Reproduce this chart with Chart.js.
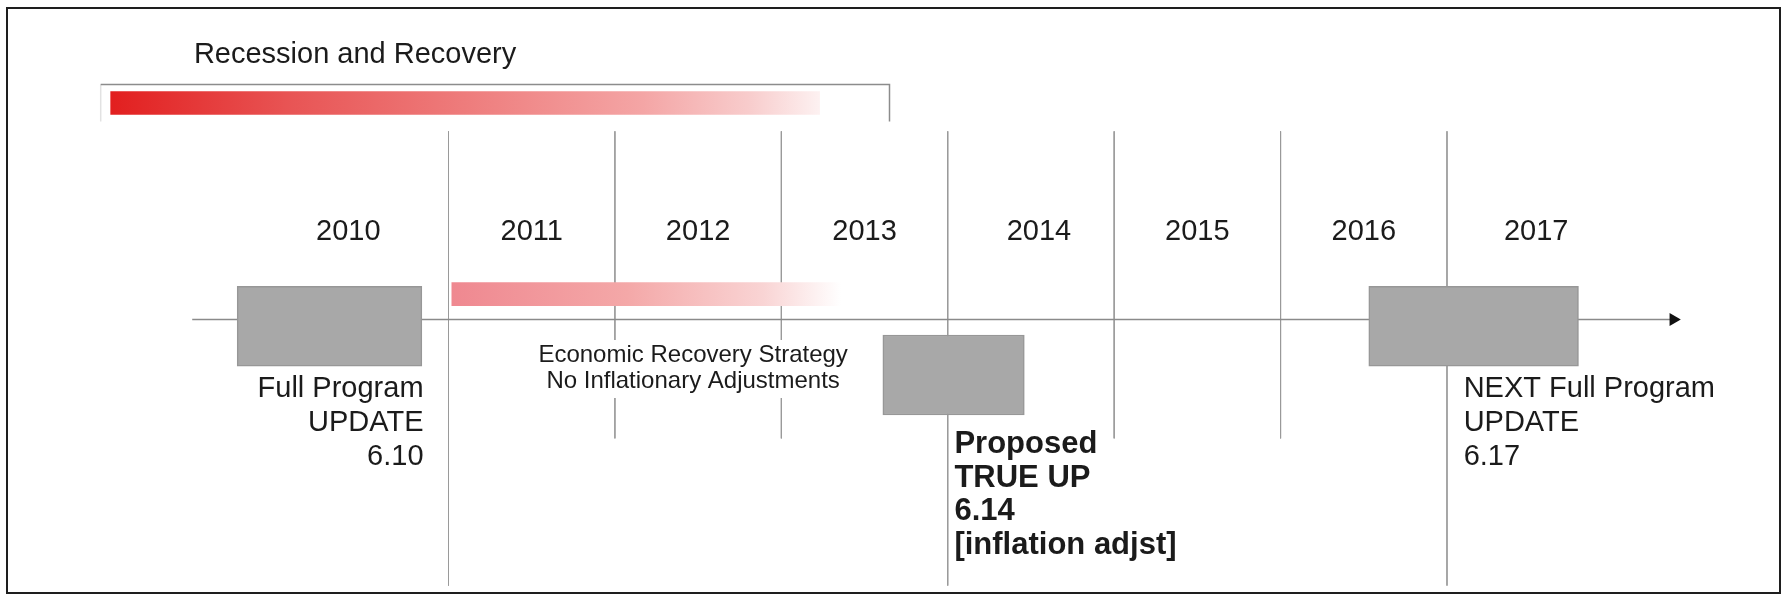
<!DOCTYPE html>
<html lang="en">
<head>
    <meta charset="UTF-8">
    <title>Recession and Recovery - Program Update Timeline</title>
    <script src="https://cdn.jsdelivr.net/npm/chart.js"></script>
    <style>
        html, body { margin: 0; padding: 0; background: #fff; }
        #wrap { width: 1784px; height: 597px; position: relative; }
    </style>
</head>
<body>
    <div id="wrap"><canvas id="timeline"></canvas></div>

    <script>
        // Years across the top, and the dividers between the columns
        const years = [2010, 2011, 2012, 2013, 2014, 2015, 2016, 2017];
        const dividers = [2010.5, 2011.5, 2012.5, 2013.5, 2014.5, 2015.5, 2016.5];
        const longDividers = [2010.5, 2013.5, 2016.5];

        // Program events (grey boxes), start / end in fractional years
        const eventStart = [2009.23, 2013.11, 2016.03];
        const eventEnd = [2010.34, 2013.96, 2017.29];
        const eventLabels = [
            ["Full Program", "UPDATE", "6.10"],
            ["Proposed", "TRUE UP", "6.14", "[inflation adjst]"],
            ["NEXT Full Program", "UPDATE", "6.17"]
        ];

        // Shaded periods
        const recessionSpan = [2008.47, 2012.73];
        const recessionBracket = [2008.41, 2013.15];
        const recoverySpan = [2010.52, 2012.86];
        const timelineSpan = [2008.96, 2017.86];

        const titleText = "Recession and Recovery";
        const strategyText = ["Economic Recovery Strategy", "No Inflationary Adjustments"];

        // Layout only: vertical axis runs 0 (top) .. 597 (bottom)
        const layout = {
            xMin: 2007.85, xMax: 2018.48,
            recessionY: 98, bracketTop: 79, bracketBottom: 117,
            recoveryY: 294, barThick: 23,
            axisY: 320,
            eventY: [327, 377, 327], eventThick: 80,
            dividerTop: 127, dividerShort: 442, dividerLong: 593,
            yearBaseline: 240, yearShift: { 2010: -17, 2014: 8, 2017: 6 },
            titleX: 2008.97, titleBaseline: 63,
            strategyX: 2011.97, strategyBaselines: [362, 388],
            labelBaselines: [
                [397, 431, 465],
                [453, 487, 520, 554],
                [397, 431, 465]
            ],
            labelX: [2010.35, 2013.54, 2016.6],
            labelAlign: ["right", "left", "left"],
            labelSize: [29, 31, 29]
        };

        const font = (size, bold) => (bold ? "bold " : "") + size + 'px "Liberation Sans", Arial, Helvetica, sans-serif';

        const gradient = (span, stops) => (ctx) => {
            const chart = ctx.chart;
            if (!chart.chartArea) return stops[0][1];
            const xs = chart.scales.x;
            const g = chart.ctx.createLinearGradient(xs.getPixelForValue(span[0]), 0, xs.getPixelForValue(span[1]), 0);
            stops.forEach(s => g.addColorStop(s[0], s[1]));
            return g;
        };

        const dividerSets = dividers.map(d => ({
            type: "line",
            data: [
                { x: d, y: layout.dividerTop },
                { x: d, y: longDividers.includes(d) ? layout.dividerLong : layout.dividerShort }
            ],
            borderColor: "#9a9a9a",
            borderWidth: 1,
            pointRadius: 0,
            order: 5
        }));

        // Frame, title, year labels, annotations
        const textPlugin = {
            id: "timelineText",
            afterDatasetsDraw(chart) {
                const c = chart.ctx;
                const xs = chart.scales.x;
                c.save();

                // outer frame
                c.strokeStyle = "#1e1e1e";
                c.lineWidth = 2;
                c.strokeRect(7, 8, 1773, 585);

                c.fillStyle = "#1b1b1b";
                c.textBaseline = "alphabetic";

                c.font = font(29);
                c.textAlign = "left";
                c.fillText(titleText, xs.getPixelForValue(layout.titleX), layout.titleBaseline);

                c.textAlign = "center";
                years.forEach(y => {
                    const shift = layout.yearShift[y] || 0;
                    c.fillText(String(y), xs.getPixelForValue(y) + shift, layout.yearBaseline);
                });

                // strategy note, masking the dividers behind it
                c.font = font(24);
                const sx = xs.getPixelForValue(layout.strategyX);
                const w = Math.max(...strategyText.map(t => c.measureText(t).width));
                c.fillStyle = "#fff";
                c.fillRect(sx - w / 2 - 6, layout.strategyBaselines[0] - 22, w + 12, 58);
                c.fillStyle = "#1b1b1b";
                strategyText.forEach((t, i) => c.fillText(t, sx, layout.strategyBaselines[i]));

                eventLabels.forEach((lines, i) => {
                    c.font = font(layout.labelSize[i], i === 1);
                    c.textAlign = layout.labelAlign[i];
                    const lx = xs.getPixelForValue(layout.labelX[i]);
                    lines.forEach((t, j) => c.fillText(t, lx, layout.labelBaselines[i][j]));
                });

                c.restore();
            }
        };

        new Chart(document.getElementById("timeline"), {
            type: "bar",
            data: {
                datasets: [
                    {
                        type: "bar",
                        indexAxis: "y",
                        grouped: false,
                        data: eventStart.map((s, i) => ({ x: [s, eventEnd[i]], y: layout.eventY[i] })),
                        backgroundColor: "#a8a8a8",
                        borderColor: "#979797",
                        borderWidth: 1.5,
                        borderSkipped: false,
                        barThickness: layout.eventThick,
                        order: 1
                    },
                    {
                        type: "bar",
                        indexAxis: "y",
                        grouped: false,
                        data: [{ x: recessionSpan, y: layout.recessionY }],
                        backgroundColor: gradient(recessionSpan, [
                            [0, "#e21f1f"], [0.25, "#e85454"], [0.5, "#ee7c7c"],
                            [0.75, "#f4a5a5"], [0.9, "#f8cccc"], [1, "#fdf1f1"]
                        ]),
                        borderWidth: 0,
                        barThickness: layout.barThick,
                        order: 2
                    },
                    {
                        type: "bar",
                        indexAxis: "y",
                        grouped: false,
                        data: [{ x: recoverySpan, y: layout.recoveryY }],
                        backgroundColor: gradient(recoverySpan, [
                            [0, "#ef8890"], [0.45, "#f4a8a8"], [0.8, "#f9d4d4"], [1, "#ffffff"]
                        ]),
                        borderWidth: 0,
                        barThickness: layout.barThick,
                        order: 2
                    },
                    {
                        type: "line",
                        data: [
                            { x: recessionBracket[0], y: layout.bracketBottom },
                            { x: recessionBracket[0], y: layout.bracketTop },
                            { x: recessionBracket[1], y: layout.bracketTop },
                            { x: recessionBracket[1], y: layout.bracketBottom }
                        ],
                        borderColor: "#8c8c8c",
                        segment: {
                            borderColor: ctx => ctx.p0DataIndex === 0 ? "#e2e2e2" : "#8c8c8c"
                        },
                        borderWidth: 1.5,
                        pointRadius: 0,
                        order: 6
                    },
                    {
                        type: "line",
                        data: [
                            { x: timelineSpan[0], y: layout.axisY },
                            { x: timelineSpan[1], y: layout.axisY }
                        ],
                        borderColor: "#8a8a8a",
                        borderWidth: 1.5,
                        pointStyle: "triangle",
                        rotation: 90,
                        pointRadius: [0, 7.5],
                        pointBackgroundColor: "#111",
                        pointBorderWidth: 0,
                        order: 3
                    },
                    ...dividerSets
                ]
            },
            options: {
                responsive: true,
                maintainAspectRatio: false,
                animation: false,
                layout: { padding: 0 },
                plugins: { legend: { display: false }, tooltip: { enabled: false } },
                scales: {
                    x: { type: "linear", min: layout.xMin, max: layout.xMax, offset: false, display: false },
                    y: { type: "linear", min: 0, max: 597, reverse: true, offset: false, display: false }
                }
            },
            plugins: [textPlugin]
        });
    </script>
</body>
</html>
